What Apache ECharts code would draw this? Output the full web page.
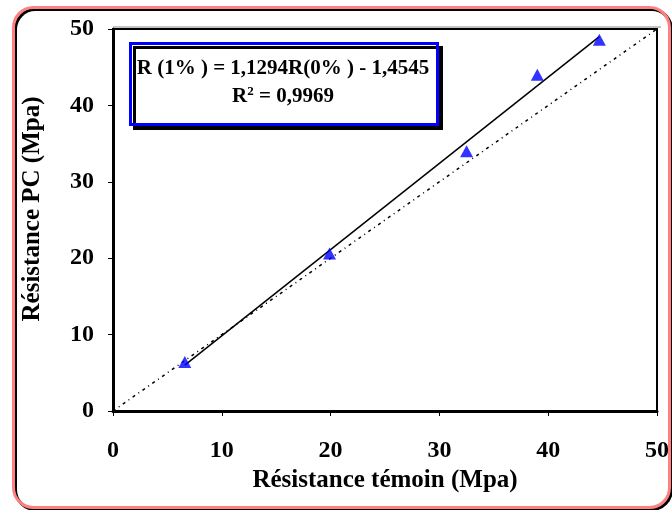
<!DOCTYPE html>
<html>
<head>
<meta charset="utf-8">
<script src="https://cdn.jsdelivr.net/npm/echarts@6/dist/echarts.min.js"></script>
<style>html,body{margin:0;padding:0;background:#fff}#c{width:672px;height:510px}</style>
</head>
<body>
<div id="c"></div>
<script>
var xTicks = [0, 10, 20, 30, 40, 50];
var yTicks = [0, 10, 20, 30, 40, 50];
var pointsX = [6.6, 19.9, 32.5, 39.0, 44.7];
var pointsY = [6.4, 20.6, 34.0, 44.0, 48.6];
var trendX = [6.6, 44.7];
var trendY = [6.0, 49.0];
var identityX = [0, 50];
var identityY = [0, 50];
var eqLine1 = 'R (1% ) = 1,1294R(0% ) - 1,4545';
var eqLine2a = 'R';
var eqLine2sup = '2';
var eqLine2b = ' = 0,9969';
var xTitle = 'Résistance témoin (Mpa)';
var yTitle = 'Résistance PC (Mpa)';

function pairs(xs, ys) { return xs.map(function (v, i) { return [v, ys[i]]; }); }

var font = '"Liberation Serif", "Times New Roman", serif';
var chart = echarts.init(document.getElementById('c'), null, { renderer: 'canvas' });
chart.setOption({
  animation: false,
  backgroundColor: '#fff',
  grid: { left: 113, top: 29, right: 12, bottom: 99, show: true, borderColor: '#000', borderWidth: 2, backgroundColor: 'transparent' },
  xAxis: {
    type: 'value', min: 0, max: 50, interval: 10,
    name: xTitle, nameLocation: 'middle', nameGap: 56,
    nameTextStyle: { fontFamily: font, fontWeight: 'bold', fontSize: 25, color: '#000' },
    axisLine: { show: true, lineStyle: { color: '#000', width: 3 } },
    axisTick: { show: true, inside: false, length: 5, lineStyle: { color: '#000', width: 1 } },
    axisLabel: { fontFamily: font, fontWeight: 'bold', fontSize: 24, color: '#000', margin: 28 },
    splitLine: { show: false }
  },
  yAxis: {
    type: 'value', min: 0, max: 50, interval: 10,
    name: yTitle, nameLocation: 'middle', nameGap: 68,
    nameTextStyle: { fontFamily: font, fontWeight: 'bold', fontSize: 25, color: '#000', padding: [0, 0, 0, 22] },
    axisLine: { show: true, lineStyle: { color: '#000', width: 3 } },
    axisTick: { show: true, inside: false, length: 5, lineStyle: { color: '#000', width: 1 } },
    axisLabel: { fontFamily: font, fontWeight: 'bold', fontSize: 24, color: '#000', margin: 19 },
    splitLine: { show: false }
  },
  series: [
    {
      type: 'line', data: pairs(identityX, identityY), symbol: 'none',
      lineStyle: { color: '#000', width: 1.5, type: [3, 4, 1, 4] }, z: 1
    },
    {
      type: 'line', data: pairs(trendX, trendY), symbol: 'none',
      lineStyle: { color: '#000', width: 1.5 }, z: 2
    },
    {
      type: 'scatter', data: pairs(pointsX, pointsY), symbol: 'triangle', symbolSize: [13, 12],
      itemStyle: { color: '#0000ff' }, z: 3
    }
  ],
  graphic: [
    {
      type: 'rect', left: 12, top: 6, z: -10,
      shape: { width: 656, height: 500, r: 20 },
      style: { fill: 'transparent', stroke: '#ff8080', lineWidth: 3, shadowColor: '#000', shadowOffsetX: 2, shadowOffsetY: 2, shadowBlur: 0 }
    },
    {
      type: 'line', z: 5,
      shape: { x1: 113, y1: 27, x2: 661, y2: 27 },
      style: { stroke: '#888', lineWidth: 1 }
    },
    {
      type: 'rect', left: 129, top: 42, z: 10,
      shape: { width: 307, height: 81 },
      style: { fill: '#fff', stroke: '#0000ff', lineWidth: 3, shadowColor: '#000', shadowOffsetX: 4, shadowOffsetY: 4, shadowBlur: 0 }
    },
    {
      type: 'text', x: 283, y: 69, z: 11,
      style: { text: eqLine1, fontFamily: font, fontWeight: 'bold', fontSize: 21, fill: '#000', textAlign: 'center', textVerticalAlign: 'middle' }
    },
    {
      type: 'text', x: 283, y: 97, z: 11,
      style: {
        text: '{a|' + eqLine2a + '}{s|' + eqLine2sup + '}{a|' + eqLine2b + '}',
        textAlign: 'center', textVerticalAlign: 'middle',
        rich: {
          a: { fontFamily: font, fontWeight: 'bold', fontSize: 21, color: '#000' },
          s: { fontFamily: font, fontWeight: 'bold', fontSize: 13, color: '#000', verticalAlign: 'top', padding: [0, 0, 10, 0] }
        }
      }
    }
  ]
});
</script>
</body>
</html>
